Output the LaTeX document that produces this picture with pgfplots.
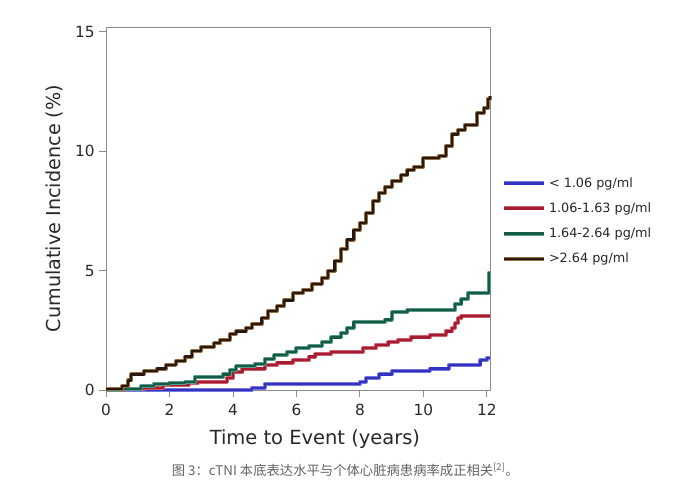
\documentclass[border=0pt]{standalone}
\usepackage{pgfplots}
\pgfplotsset{compat=1.18}
\usepackage{fontspec}
\setmainfont{DejaVu Sans}
\newfontfamily\cjk{Noto Sans CJK SC}
\definecolor{cblue}{RGB}{50,50,190}
\definecolor{hblue}{RGB}{120,120,225}
\definecolor{cred}{RGB}{165,28,48}
\definecolor{hred}{RGB}{205,95,110}
\definecolor{cgreen}{RGB}{20,90,70}
\definecolor{hgreen}{RGB}{90,155,135}
\definecolor{cbrown}{RGB}{40,25,15}
\definecolor{hbrown}{RGB}{150,110,70}
\definecolor{axgray}{RGB}{140,140,140}
\definecolor{txt}{RGB}{40,40,40}
\tikzset{halo/.style={preaction={draw=#1, line width=3.0pt}}}
\begin{document}
\begin{tikzpicture}
\path[use as bounding box] (0,0) rectangle (510.75pt,369pt);
\begin{axis}[
  at={(79.5pt,76.5pt)}, anchor=south west,
  scale only axis, width=288pt, height=272.25pt,
  xmin=0, xmax=12.1, ymin=0, ymax=15.2,
  xtick={0,2,...,12}, ytick={0,5,10,15},
  axis line style={axgray, line width=0.6pt},
  tick style={axgray, line width=0.6pt},
  tick align=outside, major tick length=5pt,
  xtick pos=bottom, ytick pos=left,
  ticklabel style={font=\fontsize{11.5}{13}\selectfont, text=txt},
  xticklabel style={yshift=-2pt},
  /pgf/number format/assume math mode=true,
  xlabel={Time to Event (years)},
  ylabel={Cumulative Incidence (\%)},
  xlabel style={font=\fontsize{14.6}{17}\selectfont, text=txt, at={(axis description cs:0.544,-0.135)}, anchor=center},
  ylabel style={font=\fontsize{14.4}{17}\selectfont, text=txt, at={(axis description cs:-0.133,0.5)}, anchor=center},
  legend style={draw=none, fill=none, at={(axis description cs:1.021,0.6006)}, anchor=north west,
    font=\fontsize{9.6}{11}\selectfont, text=txt, row sep=6pt, cells={anchor=west}},
  legend image code/.code={\draw[#1] (0pt,0pt) -- (30pt,0pt);},
  clip=false,
  line join=round,
]
\addplot[const plot, cblue, line width=1.6pt, halo=hblue] coordinates {
(0,0) (1.5,0) (4.6,0.1) (5.0,0.25) (8.0,0.35) (8.2,0.5) (8.6,0.65) (9.0,0.8)
(10.2,0.9) (10.8,1.05) (11.8,1.25) (12.0,1.35) (12.1,1.35)};
\addlegendentry{<\ 1.06 pg/ml}
\addplot[const plot, cred, line width=1.6pt, halo=hred] coordinates {
(0,0) (0.6,0.05) (1.2,0.1) (1.8,0.2) (2.6,0.3) (2.9,0.35) (3.8,0.5) (4.0,0.75)
(4.3,0.9) (5.0,1.05) (5.4,1.15) (5.9,1.25) (6.4,1.4) (6.6,1.5) (7.1,1.6)
(8.1,1.75) (8.5,1.9) (8.9,2.0) (9.2,2.1) (9.6,2.2) (10.2,2.3) (10.7,2.45)
(10.9,2.6) (11.0,2.8) (11.1,3.0) (11.2,3.1) (12.1,3.1)};
\addlegendentry{1.06-1.63 pg/ml}
\addplot[const plot, cgreen, line width=1.6pt, halo=hgreen] coordinates {
(0,0) (0.5,0.05) (1.1,0.15) (1.5,0.25) (2.0,0.3) (2.5,0.35) (2.8,0.55) (3.7,0.65)
(3.9,0.85) (4.1,1.0) (4.7,1.1) (5.0,1.3) (5.3,1.45) (5.7,1.6) (6.0,1.75)
(6.4,1.85) (6.8,2.0) (7.1,2.2) (7.4,2.4) (7.6,2.6) (7.8,2.85) (8.8,2.95)
(9.0,3.25) (9.5,3.35) (11.0,3.6) (11.2,3.8) (11.4,4.05) (12.06,4.9) (12.1,4.9)};
\addlegendentry{1.64-2.64 pg/ml}
\addplot[const plot, cbrown, line width=1.6pt, halo=hbrown] coordinates {
(0,0.05) (0.5,0.15) (0.7,0.4) (0.8,0.65) (1.2,0.8) (1.6,0.9) (1.9,1.05) (2.2,1.2)
(2.5,1.4) (2.7,1.65) (3.0,1.8) (3.4,1.95) (3.6,2.1) (3.9,2.35) (4.1,2.45)
(4.4,2.6) (4.6,2.75) (4.9,3.0) (5.1,3.3) (5.4,3.5) (5.6,3.75) (5.9,4.05)
(6.2,4.2) (6.5,4.45) (6.8,4.7) (7.0,5.0) (7.2,5.4) (7.4,5.9) (7.6,6.3)
(7.8,6.7) (8.0,7.0) (8.2,7.4) (8.4,7.9) (8.6,8.25) (8.8,8.5) (9.0,8.75)
(9.3,9.0) (9.5,9.2) (9.7,9.35) (10.0,9.7) (10.5,9.8) (10.7,10.2) (10.9,10.7)
(11.1,10.9) (11.3,11.1) (11.7,11.6) (11.9,11.8) (12.05,12.2) (12.1,12.3)};
\addlegendentry{>2.64 pg/ml}
\end{axis}
\node[font=\cjk\fontsize{10}{12}\selectfont, text={rgb,255:red,100;green,100;blue,100}] at (259pt,16.5pt) {图 3：cTNI 本底表达水平与个体心脏病患病率成正相关\textsuperscript{[2]}。};
\end{tikzpicture}
\end{document}
